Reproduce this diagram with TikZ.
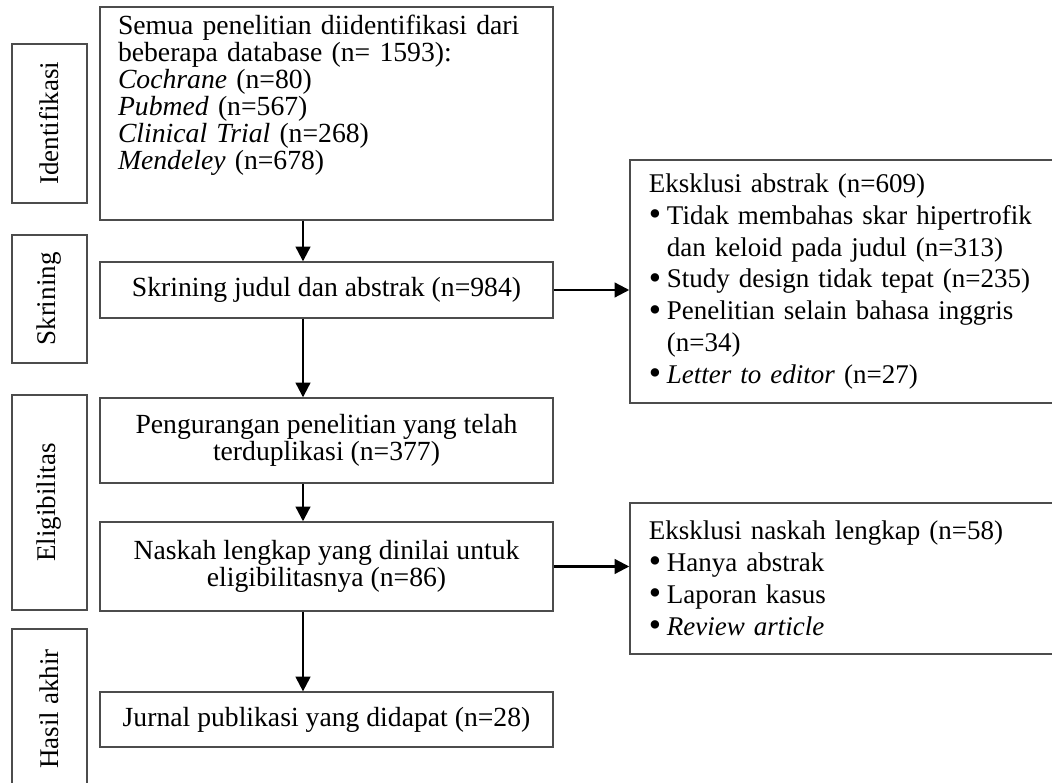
\documentclass[tikz,border=0pt]{standalone}
\usepackage{fontspec}
\setmainfont{Liberation Serif}
\usetikzlibrary{arrows.meta}

\newcommand{\itembul}{\makebox[8pt][l]{\raisebox{-0.5pt}{\scalebox{1.3}{\textbullet}}}}
\newcommand{\itemgap}{\hspace*{8pt}}

\tikzset{
  box/.style={draw=black!70, line width=0.6pt, inner sep=0pt},
  phase/.style={box, rotate=90, minimum height=33.3pt, font=\fontsize{12}{12}\selectfont},
  mainbox/.style={box, minimum width=201.3pt, align=center, font=\fontsize{12.3}{12}\selectfont},
  exclbox/.style={box, minimum width=195.6pt, text width=178.7pt, inner xsep=8.4pt, align=left, font=\fontsize{12}{14.2}\selectfont},
  flow/.style={line width=1pt, -{Triangle[length=6.5pt,width=6.5pt]}}
}

\begin{document}
\begin{tikzpicture}[x=0.4444pt, y=-0.4444pt]
    \fill[white] (0,0) rectangle (1052,783);
    \useasboundingbox (0,0) rectangle (1052,783);

    % stages on the left
    \foreach \n/\y/\h/\t in {ident/123.5/70.7/Identifikasi, skrin/299/56.9/Skrining, elig/502.5/95.6/Eligibilitas, hasil/709/71.1/Hasil akhir}
        \node[phase, minimum width=\h pt] (\n) at (49.5,\y) {\t};

    % main column
    \node[mainbox, minimum height=94.7pt, text width=185.3pt, inner xsep=8pt, align=left] (start) at (326.5,113.5)
        {Semua penelitian diidentifikasi dari\\
         beberapa database (n= 1593):\\
         \textit{Cochrane} (n=80)\\
         \textit{Pubmed} (n=567)\\
         \textit{Clinical Trial} (n=268)\\
         \textit{Mendeley} (n=678)\par\vspace{7pt}\mbox{}};
    \node[mainbox, minimum height=24.9pt] (screen) at (326.5,290) {Skrining judul dan abstrak (n=984)};
    \node[mainbox, minimum height=37.8pt] (dedup) at (326.5,440.5) {Pengurangan penelitian yang telah\\terduplikasi (n=377)};
    \node[mainbox, minimum height=39.6pt] (fulltext) at (326.5,566.5) {Naskah lengkap yang dinilai untuk\\eligibilitasnya (n=86)};
    \node[mainbox, minimum height=24.4pt] (final) at (326.5,719.5) {Jurnal publikasi yang didapat (n=28)};

    % exclusions on the right
    \node[exclbox, minimum height=108pt] (excl1) at (850,281.5)
        {Eksklusi abstrak (n=609)\\
         \itembul Tidak membahas skar hipertrofik\\
         \itemgap dan keloid pada judul (n=313)\\
         \itembul Study design tidak tepat (n=235)\\
         \itembul Penelitian selain bahasa inggris\\
         \itemgap (n=34)\\
         \itembul \textit{Letter to editor} (n=27)};
    \node[exclbox, minimum height=67.1pt] (excl2) at (850,578.5)
        {Eksklusi naskah lengkap (n=58)\\
         \itembul Hanya abstrak\\
         \itembul Laporan kasus\\
         \itembul \textit{Review article}};

    % arrows
    \coordinate (spine) at (303,0);
    \foreach \a/\b in {start/screen, screen/dedup, dedup/fulltext, fulltext/final}
        \draw[flow] (\a.south -| spine) -- (\b.north -| spine);
    \draw[flow] (screen.east) -- (screen.east -| excl1.west);
    \draw[flow] (fulltext.east) -- (fulltext.east -| excl2.west);
\end{tikzpicture}
\end{document}
